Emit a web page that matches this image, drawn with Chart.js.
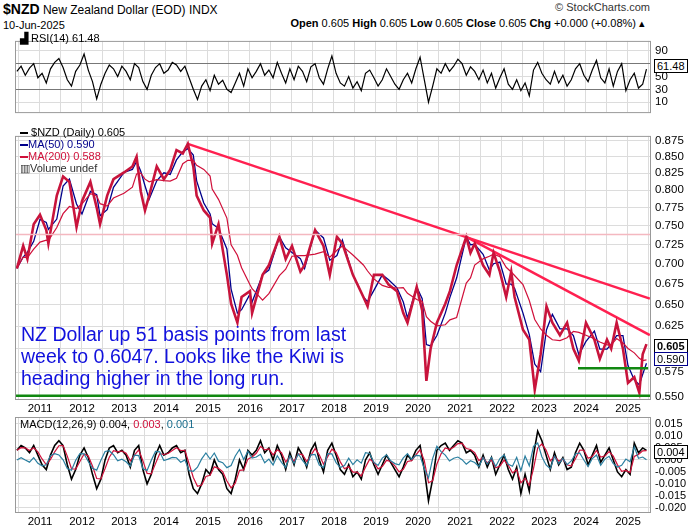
<!DOCTYPE html>
<html><head><meta charset="utf-8">
<script src="https://cdn.jsdelivr.net/npm/chart.js@4"></script>
<style>
body{margin:0;background:#fff;width:700px;height:530px;position:relative;overflow:hidden;font-family:"Liberation Sans",Arial,sans-serif;}
canvas{position:absolute;left:0;}
.t{position:absolute;white-space:nowrap;font-size:11px;color:#000;}
.box{position:absolute;font-size:11px;border:1px solid #000;background:#fff;padding:0 2px;line-height:12px;}
</style></head><body>
<div class="t" style="left:3px;top:1px;font-size:12px"><b style="font-size:14px">$NZD</b> New Zealand Dollar (EOD) INDX</div>
<div class="t" style="left:3px;top:19px">10-Jun-2025</div>
<div class="t" style="right:50px;top:1px;color:#333">© StockCharts.com</div>
<div class="t" style="right:55px;top:17px"><b>Open</b> 0.605 <b>High</b> 0.605 <b>Low</b> 0.605 <b>Close</b> 0.605 <b>Chg</b> +0.000 (+0.08%) ▴</div>
<canvas id="rsi" width="700" height="93" style="top:30px"></canvas>
<canvas id="main" width="700" height="292" style="top:125px"></canvas>
<canvas id="macd" width="700" height="113" style="top:417px"></canvas>
<div class="t" style="left:20px;top:32px">▟ RSI(14) 61.48</div>
<div class="t" style="left:20px;top:126px;line-height:12px"><span style="display:inline-block;width:8px;border-top:2px solid #000;vertical-align:middle"></span> $NZD (Daily) 0.605<br><span style="color:#00008b"><span style="display:inline-block;width:8px;border-top:2px solid #00008b;vertical-align:middle"></span>MA(50) 0.590</span><br><span style="color:#d0103a"><span style="display:inline-block;width:8px;border-top:2px solid #d0103a;vertical-align:middle"></span>MA(200) 0.588</span><br><span style="color:#333">▥Volume undef</span></div>
<div class="t" style="left:21px;top:323px;font-size:19.5px;line-height:22px;color:#1111dd">NZ Dollar up 51 basis points from last<br>week to 0.6047. Looks like the Kiwi is<br>heading higher in the long run.</div>
<div class="t" style="left:20px;top:418px">MACD(12,26,9) 0.004, <span style="color:#d0103a">0.003</span>, <span style="color:#1a6e8e">0.001</span></div>
<div class="box" style="left:654px;top:59px">61.48</div>
<div class="box" style="left:654px;top:339px;font-weight:bold">0.605</div>
<div class="box" style="left:654px;top:352px;border-color:#00008b">0.590</div>
<div class="box" style="left:654px;top:445px">0.004</div>
<script>
const priceDates=[2010.45,2010.6,2010.7,2010.85,2011.0,2011.15,2011.2,2011.4,2011.55,2011.7,2011.87,2012.0,2012.2,2012.35,2012.43,2012.6,2012.75,2013.0,2013.2,2013.3,2013.4,2013.5,2013.6,2013.78,2013.95,2014.1,2014.25,2014.4,2014.52,2014.65,2014.73,2014.9,2015.05,2015.1,2015.25,2015.45,2015.55,2015.7,2015.8,2016.0,2016.05,2016.3,2016.45,2016.7,2016.85,2017.0,2017.2,2017.3,2017.55,2017.75,2017.9,2018.07,2018.2,2018.45,2018.7,2018.8,2018.95,2019.15,2019.3,2019.5,2019.65,2019.75,2019.97,2020.1,2020.2,2020.3,2020.45,2020.65,2020.76,2020.92,2021.15,2021.25,2021.35,2021.55,2021.7,2021.8,2021.95,2022.1,2022.22,2022.3,2022.5,2022.65,2022.78,2022.92,2023.06,2023.2,2023.38,2023.55,2023.7,2023.83,2024.0,2024.2,2024.33,2024.5,2024.6,2024.73,2024.88,2025.0,2025.15,2025.27,2025.35,2025.44];
const priceValues=[.694,.723,.706,.752,.765,.744,.726,.792,.820,.812,.748,.784,.812,.775,.752,.792,.816,.826,.835,.850,.798,.771,.792,.835,.816,.830,.860,.855,.870,.835,.792,.771,.761,.726,.752,.686,.651,.629,.659,.666,.640,.686,.698,.735,.706,.723,.690,.698,.744,.723,.686,.735,.726,.686,.659,.648,.686,.686,.674,.666,.640,.629,.671,.643,.566,.600,.629,.651,.666,.698,.735,.714,.726,.698,.686,.714,.690,.659,.690,.659,.621,.610,.557,.594,.648,.629,.615,.629,.600,.587,.629,.610,.589,.610,.600,.629,.600,.564,.570,.554,.594,.605];
const indStart=2010.45, indStep=0.1;
const rsiValues=[58,66,52,63,70,48,55,40,62,72, 78,64,45,35,58,68,85,60,42,15, 38,55,68,62,50,66,58,45,70,64, 42,30,52,64,70,55,60,72,68,58, 66,48,30,14,35,45,28,52,38,44, 30,25,40,55,35,62,48,58,70,52, 60,48,72,55,40,62,45,66,58,42, 65,70,48,38,62,82,55,40,35,50, 32,42,28,55,60,48,35,45,62,50, 38,30,45,55,40,62,80,45,10,35, 62,55,70,58,66,77,70,52,65,58, 45,60,40,55,32,48,62,38,30,45, 28,40,20,60,72,55,45,38,58,40, 52,35,45,62,70,52,42,60,75,48, 40,62,35,58,70,28,45,55,32,38, 61.48];
const macdValues=[.004,.006,.005,.003,.006,.002,-.002,-.004,.002,.006, .008,.006,-.002,-.008,-.004,.002,.005,.001,-.006,-.012, -.008,.000,.005,.006,.003,.004,.002,-.003,.004,.006, -.004,-.010,-.006,.002,.006,.002,.003,.005,.006,.003, .004,-.006,-.012,-.014,-.010,-.004,-.006,.000,-.004,-.006, -.012,-.014,-.008,.000,-.004,.004,.002,.004,.008,.003, .005,.000,.006,.002,-.004,.003,-.002,.005,.002,-.003, .004,.007,.000,-.005,.004,.007,.002,-.004,-.006,-.002, -.007,-.005,-.008,.000,.003,-.002,-.006,-.002,.002,-.001, -.004,-.007,-.003,.002,.000,.004,.006,-.004,-.017,-.008, .004,.006,.007,.004,.006,.008,.007,.003,.004,.002, -.003,.002,-.003,.001,-.006,-.002,.002,-.004,-.008,-.003, -.014,-.006,-.013,.002,.012,.008,.002,-.004,.003,-.002, .001,-.004,-.003,.003,.007,.004,-.002,.002,.006,-.001, .002,.005,.000,-.005,-.007,-.004,-.006,.007,.003,.005, .004];
const priceTicks=[.550,.575,.600,.625,.650,.675,.700,.725,.750,.775,.800,.825,.850,.875];
const rsiTicks=[10,30,50,70,90];
const macdTicks=[-.020,-.015,-.010,-.005,0,.005,.010,.015];
const trend1=[{x:2014.52,y:.870},{x:2025.52,y:.657}];
const trend2=[{x:2021.15,y:.735},{x:2025.52,y:.615}];
const support1=[{x:2010.405,y:.551},{x:2025.548,y:.551}];
const support2=[{x:2023.81,y:.579},{x:2025.48,y:.579}];
const levelLine=[{x:2010.405,y:.738},{x:2025.548,y:.738}];

const pts=(d,v)=>d.map((x,i)=>({x,y:v[i]}));
const ind=v=>v.map((y,i)=>({x:i===v.length-1?2025.44:indStart+i*indStep,y}));
function ma(w){return priceDates.map((t,i)=>{let s=0,n=0;for(let j=0;j<=i;j++){if(priceDates[j]>=t-w){s+=priceValues[j];n++;}}return {x:t,y:s/n};});}
let sig=[];macdValues.forEach((m,i)=>sig.push(i?0.55*m+0.45*sig[i-1]:m));
const hist=macdValues.map((m,i)=>m-sig[i]);

const F={family:'"Liberation Sans", Arial, sans-serif',size:11.5};
const frame={id:'frame',afterDraw(c){const a=c.chartArea,x=c.ctx;x.save();x.strokeStyle='#999';x.lineWidth=1;x.strokeRect(a.left+.5,a.top+.5,a.right-a.left-1,a.bottom-a.top);x.restore();}};
const manualY={id:'manualY',afterDraw(c,args,o){if(!o.ticks)return;const s=c.scales.y,x=c.ctx;x.save();x.font='11px "Liberation Sans", Arial, sans-serif';x.fillStyle='#000';x.textBaseline='middle';x.textAlign='left';o.ticks.forEach(v=>x.fillText(v.toFixed(3),c.chartArea.right+4,s.getPixelForValue(v)));x.restore();}};
function xScale(show,h){return {type:'linear',min:2010.405,max:2025.548,
 afterBuildTicks:s=>{const t=[];for(let y=2010.5;y<=2025.5;y+=0.5)t.push({value:y});s.ticks=t;},
 ticks:{display:show,autoSkip:false,maxRotation:0,padding:3,color:'#000',font:F,callback:v=>Number.isInteger(v)?String(v):''},
 grid:{color:'#dcdcdc',drawTicks:false},border:{display:false},afterFit:s=>{s.height=h;}};}
function yScale(ticks,fmt,min,max,type,gc,showT){return {type:type||'linear',position:'right',min,max,
 afterBuildTicks:s=>{s.ticks=ticks.map(v=>({value:v}));},
 ticks:{display:showT!==false,padding:4,color:'#000',font:F,autoSkip:false,callback:fmt},
 grid:{color:gc||'#dcdcdc',drawTicks:false},border:{display:false},afterFit:s=>{s.width=49;}};}
const base={responsive:false,animation:false,parsing:false,normalized:true,layout:{padding:{left:15,right:0,top:0,bottom:0}},
 plugins:{legend:{display:false},tooltip:{enabled:false}},elements:{point:{radius:0}}};
const L=(data,color,w,extra)=>Object.assign({data,borderColor:color,borderWidth:w,pointRadius:0,tension:0,fill:false},extra||{});

new Chart(document.getElementById('rsi'),{type:'line',data:{datasets:[L(ind(rsiValues),'#000',1.2)]},
 options:Object.assign({},base,{scales:{x:xScale(false,0),y:yScale(rsiTicks,v=>v,-5.5,105.5,'linear',c=>(c.tick&&(c.tick.value===70||c.tick.value===30))?'#777':'#dcdcdc')}}),plugins:[frame]});

new Chart(document.getElementById('main'),{type:'line',data:{datasets:[
 L(levelLine,'#f4b8c0',1.5),
 L(support1,'#118811',2.5),
 L(support2,'#118811',2.5),
 L(ma(0.8),'#d0103a',1.2),
 L(pts(priceDates,priceValues),'#c8143c',2.6),
 L(ma(0.2),'#00008b',1.3),
 L(trend1,'#ff2050',2.5),
 L(trend2,'#ff2050',2.5)
]},options:Object.assign({},base,{scales:{x:xScale(true,18),y:yScale(priceTicks,v=>v.toFixed(3),.5477,.8826,'logarithmic')}}),plugins:[frame]});

new Chart(document.getElementById('macd'),{type:'line',data:{datasets:[
 L(ind(hist),'#2a7fa0',1.2),
 L(ind(sig),'#d0103a',1.2),
 L(ind(macdValues),'#000',1.6)
]},options:Object.assign({},base,{plugins:Object.assign({},base.plugins,{manualY:{ticks:macdTicks}}),scales:{x:xScale(true,18),y:yScale(macdTicks,v=>v.toFixed(3),-.0217,.0179,'linear',null,false)}}),plugins:[frame,manualY]});
</script></body></html>
